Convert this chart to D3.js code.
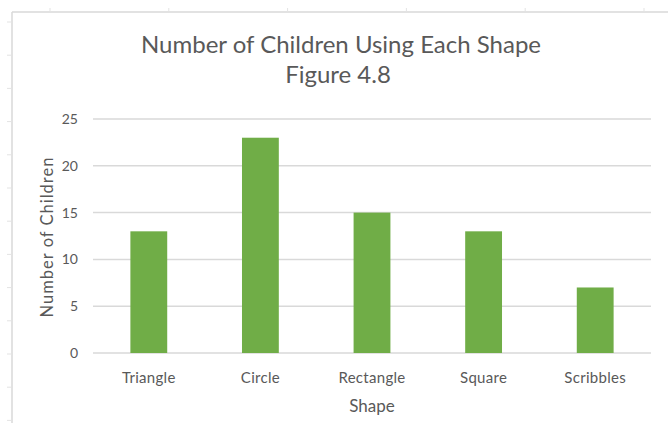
<!DOCTYPE html>
<html>
<head>
<meta charset="utf-8">
<script src="https://cdn.jsdelivr.net/npm/d3@7"></script>
<style>
  html, body { margin: 0; padding: 0; background: #fff; }
  svg { display: block; }
  text { font-family: Lato, "Open Sans", "Liberation Sans", sans-serif; fill: #595959; }
</style>
</head>
<body>
<svg id="chart" width="668" height="423"></svg>
<script>
// Chart data
const shapes = ["Triangle", "Circle", "Rectangle", "Square", "Scribbles"];
const childCounts = [13, 23, 15, 13, 7];
const yTicks = [0, 5, 10, 15, 20, 25];
const titleLines = ["Number of Children Using Each Shape", "Figure 4.8"];
const xTitle = "Shape";
const yTitle = "Number of Children";

const svg = d3.select("#chart");
const W = 668, H = 423;

// Chart area frame (sheet border with small cell marks)
const frame = svg.append("g");
frame.append("line").attr("x1", 12).attr("y1", 12).attr("x2", W).attr("y2", 12)
  .attr("stroke", "#d9d9d9").attr("stroke-width", 1.5);
frame.append("line").attr("x1", 12).attr("y1", 12).attr("x2", 12).attr("y2", H)
  .attr("stroke", "#d9d9d9").attr("stroke-width", 1.5);
d3.range(50, W, 118.8).forEach(x => {
  frame.append("line").attr("x1", x).attr("x2", x).attr("y1", 8).attr("y2", 12)
    .attr("stroke", "#e3e3e3");
});
d3.range(22, H, 33.2).forEach(y => {
  frame.append("line").attr("x1", 7).attr("x2", 12).attr("y1", y).attr("y2", y)
    .attr("stroke", "#e3e3e3");
});

const plot = { left: 93, right: 651, top: 119, bottom: 353 };

const x = d3.scaleBand().domain(shapes).range([plot.left, plot.right])
  .paddingInner(0.67).paddingOuter(0.335);
const y = d3.scaleLinear().domain([0, 25]).range([plot.bottom, plot.top]);

// Horizontal gridlines
svg.append("g").selectAll("line").data(yTicks).join("line")
  .attr("x1", plot.left).attr("x2", plot.right)
  .attr("y1", d => y(d)).attr("y2", d => y(d))
  .attr("stroke", "#d9d9d9").attr("stroke-width", 1.5);

// Y axis labels
const yAxis = d3.axisLeft(y).tickValues(yTicks).tickSize(0).tickPadding(0);
const gy = svg.append("g").attr("transform", `translate(${plot.left - 15},0)`).call(yAxis);
gy.select(".domain").remove();
gy.selectAll("text").attr("font-size", 14).style("font-family", "Lato, 'Open Sans', sans-serif").attr("fill", "#595959");

// Bars
svg.append("g").selectAll("rect").data(shapes).join("rect")
  .attr("x", d => x(d))
  .attr("width", x.bandwidth())
  .attr("y", (d, i) => y(childCounts[i]))
  .attr("height", (d, i) => y(0) - y(childCounts[i]))
  .attr("fill", "#70ad47");

// X axis labels
const xAxis = d3.axisBottom(x).tickSize(0).tickPadding(0);
const gx = svg.append("g").attr("transform", `translate(0,${plot.bottom + 30})`).call(xAxis);
gx.select(".domain").remove();
gx.selectAll("text").attr("font-size", 15).style("font-family", "Lato, 'Open Sans', sans-serif")
  .attr("fill", "#595959").attr("dy", 0).attr("letter-spacing", 0.3);

// Titles
svg.append("text").attr("x", 341).attr("y", 53).attr("text-anchor", "middle")
  .attr("font-size", 24).text(titleLines[0]);
svg.append("text").attr("x", 338).attr("y", 83).attr("text-anchor", "middle")
  .attr("font-size", 24).text(titleLines[1]);

svg.append("text").attr("x", 372).attr("y", 412).attr("text-anchor", "middle")
  .attr("font-size", 17).text(xTitle);

svg.append("text").attr("transform", "translate(53,237) rotate(-90)")
  .attr("text-anchor", "middle").attr("font-size", 16.5).attr("letter-spacing", 1)
  .text(yTitle);
</script>
</body>
</html>
